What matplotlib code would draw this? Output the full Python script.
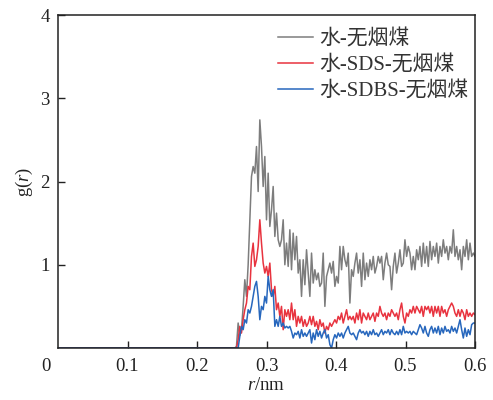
import numpy as np
import matplotlib
matplotlib.use('Agg')
import matplotlib.pyplot as plt

r_start = 0.252
r_step = 0.0024

water_coal = [
    0, 0, 0.02, 0.30, 0.15, 0.22, 0.50, 0.82, 0.62, 1.00,
    1.54, 2.06, 2.18, 2.10, 2.42, 1.88, 2.74, 2.42, 1.94, 2.30,
    1.54, 2.10, 1.46, 1.66, 1.94, 1.34, 1.62, 1.30, 1.22, 1.30,
    1.54, 1.00, 1.26, 0.98, 1.42, 0.94, 1.38, 1.06, 1.34, 0.90,
    1.06, 0.62, 1.06, 0.76, 1.18, 0.90, 0.62, 1.14, 0.78, 0.94,
    0.82, 0.90, 0.74, 0.78, 1.14, 0.50, 0.86, 0.94, 1.02, 0.90,
    1.04, 0.74, 0.86, 0.78, 1.22, 0.94, 1.22, 1.06, 0.98, 1.14,
    0.54, 0.94, 0.86, 1.02, 1.14, 0.90, 1.06, 0.74, 1.14, 0.82,
    1.02, 0.86, 1.06, 0.94, 1.10, 0.90, 0.98, 1.10, 1.02, 1.10,
    0.82, 1.02, 1.14, 1.00, 0.98, 0.70, 0.98, 1.14, 0.90, 1.02,
    1.18, 0.98, 1.02, 1.30, 1.10, 1.22, 1.14, 0.94, 1.10, 0.94,
    1.18, 1.06, 1.22, 0.98, 1.26, 1.02, 1.22, 0.98, 1.28, 1.06,
    1.22, 1.10, 1.26, 1.02, 1.22, 1.10, 1.30, 1.14, 1.22, 1.06,
    1.22, 1.14, 1.42, 1.10, 1.22, 1.06, 1.18, 0.94, 1.22, 1.10,
    1.30, 1.06, 1.26, 1.10, 1.14, 1.10,
]

water_sds_coal = [
    0, 0, 0, 0.10, 0.26, 0.18, 0.34, 0.46, 0.54, 0.74,
    0.70, 1.10, 1.26, 0.98, 1.06, 1.22, 1.54, 1.26, 1.02, 0.90,
    0.98, 0.86, 1.02, 0.70, 0.62, 0.74, 0.46, 0.54, 0.38, 0.50,
    0.22, 0.46, 0.38, 0.46, 0.34, 0.54, 0.34, 0.46, 0.26, 0.38,
    0.30, 0.38, 0.26, 0.34, 0.26, 0.30, 0.38, 0.28, 0.38, 0.26,
    0.32, 0.22, 0.34, 0.26, 0.30, 0.18, 0.26, 0.22, 0.30, 0.26,
    0.30, 0.34, 0.30, 0.38, 0.34, 0.42, 0.30, 0.38, 0.46, 0.34,
    0.38, 0.34, 0.38, 0.30, 0.42, 0.34, 0.46, 0.30, 0.42, 0.38,
    0.34, 0.42, 0.34, 0.38, 0.42, 0.32, 0.42, 0.38, 0.50, 0.42,
    0.38, 0.42, 0.34, 0.42, 0.38, 0.46, 0.42, 0.38, 0.42, 0.34,
    0.46, 0.54, 0.38, 0.30, 0.42, 0.38, 0.46, 0.42, 0.50, 0.42,
    0.50, 0.46, 0.42, 0.50, 0.38, 0.50, 0.46, 0.50, 0.42, 0.50,
    0.38, 0.50, 0.42, 0.50, 0.38, 0.50, 0.42, 0.46, 0.38, 0.46,
    0.50, 0.54, 0.50, 0.42, 0.38, 0.46, 0.38, 0.46, 0.42, 0.34,
    0.46, 0.38, 0.42, 0.38, 0.42, 0.40,
]

water_sdbs_coal = [
    0, 0, 0, 0, 0.14, 0.26, 0.22, 0.34, 0.30, 0.46,
    0.42, 0.50, 0.62, 0.74, 0.80, 0.62, 0.34, 0.50, 0.46, 0.62,
    0.54, 0.86, 0.70, 0.62, 0.70, 0.26, 0.34, 0.26, 0.38, 0.26,
    0.30, 0.24, 0.26, 0.24, 0.26, 0.20, 0.12, 0.18, 0.16, 0.20,
    0.12, 0.22, 0.14, 0.18, 0.14, 0.18, 0.22, 0.06, 0.18, 0.10,
    0.22, 0.14, 0.20, 0.12, 0.18, 0.22, 0.12, 0.16, 0.04, 0.00,
    0.10, 0.16, 0.12, 0.18, 0.14, 0.18, 0.12, 0.18, 0.22, 0.26,
    0.18, 0.16, 0.18, 0.14, 0.10, 0.18, 0.22, 0.18, 0.20, 0.16,
    0.20, 0.14, 0.20, 0.16, 0.22, 0.16, 0.18, 0.14, 0.18, 0.22,
    0.16, 0.20, 0.18, 0.22, 0.16, 0.22, 0.18, 0.16, 0.20, 0.16,
    0.22, 0.16, 0.26, 0.18, 0.20, 0.18, 0.20, 0.16, 0.20, 0.18,
    0.16, 0.22, 0.28, 0.24, 0.18, 0.26, 0.18, 0.14, 0.22, 0.26,
    0.18, 0.24, 0.18, 0.26, 0.16, 0.24, 0.18, 0.26, 0.20, 0.22,
    0.18, 0.26, 0.20, 0.24, 0.18, 0.26, 0.34, 0.22, 0.12, 0.24,
    0.14, 0.22, 0.16, 0.28, 0.30, 0.30,
]

series_labels = ['水-无烟煤', '水-SDS-无烟煤', '水-SDBS-无烟煤']
series_colors = ['#7d7d7d', '#e8333f', '#2767bd']
x_ticks = [0.1, 0.2, 0.3, 0.4, 0.5, 0.6]
y_ticks = [1, 2, 3, 4]

# ---- style ----
plt.rcParams['font.family'] = ['Liberation Serif', 'Noto Sans CJK SC']
plt.rcParams['mathtext.fontset'] = 'custom'
plt.rcParams['mathtext.rm'] = 'Liberation Serif'
plt.rcParams['mathtext.it'] = 'Liberation Serif:italic'

fig = plt.figure(figsize=(4.93, 4.0), dpi=100)
ax = fig.add_axes([58 / 493, 1 - 348 / 400, (475 - 58) / 493, (348 - 15) / 400])

grid = r_start + r_step * np.arange(len(water_coal))
r = np.concatenate([[0.0], grid])

for vals, lab, col in zip([water_coal, water_sds_coal, water_sdbs_coal], series_labels, series_colors):
    g = np.concatenate([[0.0], np.asarray(vals, dtype=float)])
    ax.plot(r, g, color=col, lw=1.1, label=lab)

ax.set_xlim(0, 0.6)
ax.set_ylim(0, 4)
ax.set_xticks(x_ticks)
ax.set_xticklabels([f'{t:g}' for t in x_ticks])
ax.set_yticks(y_ticks)
ax.set_yticklabels([str(t) for t in y_ticks])
ax.tick_params(direction='in', length=5, width=1.0, labelsize=13.5, colors='#222222', pad=7)
ax.tick_params(axis='y', pad=6)
for s in ax.spines.values():
    s.set_linewidth(1.1)
    s.set_color('#222222')

ax.text(-0.03, -0.03, '0', transform=ax.transAxes, ha='center', va='top', fontsize=13.5, color='#222222')

ax.set_xlabel(r'$\it{r}$/nm', fontsize=13.5, color='#222222', labelpad=2)
ax.set_ylabel(r'g($\it{r}$)', fontsize=13.5, color='#222222', labelpad=4)

leg = ax.legend(loc='upper right', bbox_to_anchor=(1.0, 0.975), frameon=False, fontsize=15,
                handlelength=1.7, handletextpad=0.3, labelspacing=0.27, borderaxespad=0.0,
                borderpad=0.3)
for t in leg.get_texts():
    t.set_color('#333333')

fig.savefig('out.png', dpi=100)
